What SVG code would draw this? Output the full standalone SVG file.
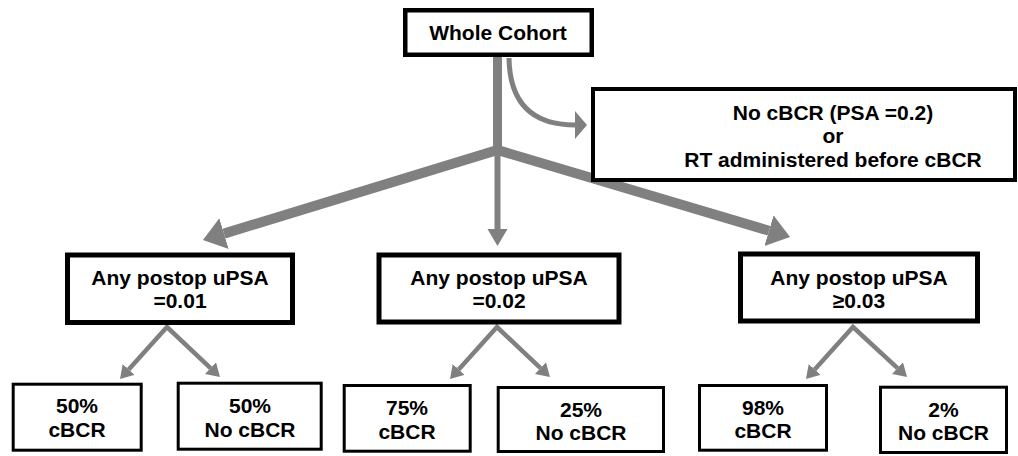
<svg xmlns="http://www.w3.org/2000/svg" width="1018" height="456" viewBox="0 0 1018 456">
<style>
.box{fill:#fff;stroke:#000}
.t{font-family:"Liberation Sans",Arial,sans-serif;font-weight:bold;font-size:21px;fill:#000;text-anchor:middle}
.arr{fill:none;stroke:#808080;stroke-linejoin:miter}
</style>
<defs>
<marker id="hBig" markerUnits="userSpaceOnUse" markerWidth="24" markerHeight="34" refX="0" refY="16" orient="auto-start-reverse" viewBox="0 0 24 34"><path d="M0,0 L22,16 L0,32 z" fill="#808080"/></marker>
<marker id="hMid" markerUnits="userSpaceOnUse" markerWidth="18" markerHeight="22" refX="0" refY="10" orient="auto-start-reverse" viewBox="0 0 18 22"><path d="M0,0 L17,10 L0,20 z" fill="#808080"/></marker>
<marker id="hSm" markerUnits="userSpaceOnUse" markerWidth="14" markerHeight="18" refX="0" refY="8" orient="auto-start-reverse" viewBox="0 0 14 18"><path d="M0,0 L13,8 L0,16 z" fill="#808080"/></marker>
<marker id="hCurve" markerUnits="userSpaceOnUse" markerWidth="14" markerHeight="30" refX="0" refY="14" orient="auto" viewBox="0 0 14 30"><path d="M0,0 L12,14 L0,28 z" fill="#808080"/></marker>
</defs>
<g id="connectors">
<line class="arr" x1="497.5" y1="57" x2="497.5" y2="153" stroke-width="9"/>
<path class="arr" d="M224,233.6 L497.5,150 L769,230.7" stroke-width="10" marker-start="url(#hBig)" marker-end="url(#hBig)"/>
<line class="arr" x1="497.5" y1="150" x2="497.5" y2="229" stroke-width="6" marker-end="url(#hMid)"/>
<path class="arr" d="M509,58 Q510,125 575,125" stroke-width="5" marker-end="url(#hCurve)"/>
<path class="arr" d="M128.7,369.4 L167,327 L210.5,368.1" stroke-width="4.5" marker-start="url(#hSm)" marker-end="url(#hSm)"/>
<path class="arr" d="M458.7,369.4 L497,327 L540.5,368.1" stroke-width="4.5" marker-start="url(#hSm)" marker-end="url(#hSm)"/>
<path class="arr" d="M814.7,369.4 L853,327 L897.5,368.1" stroke-width="4.5" marker-start="url(#hSm)" marker-end="url(#hSm)"/>
</g>
<g id="whole-cohort">
<rect class="box" x="405.25" y="10.25" width="186.5" height="44.5" stroke-width="4.5"/>
<text class="t" x="498" y="40">Whole Cohort</text>
</g>
<g id="excluded">
<rect class="box" x="593" y="89" width="422" height="91" stroke-width="4"/>
<text class="t" x="833" y="120">No cBCR (PSA =0.2)</text>
<text class="t" x="833" y="143">or</text>
<text class="t" x="833" y="167">RT administered before cBCR</text>
</g>
<g id="upsa-001">
<rect class="box" x="67.5" y="255" width="225" height="67.5" stroke-width="5"/>
<text class="t" x="180" y="284.5">Any postop uPSA</text>
<text class="t" x="180" y="308">=0.01</text>
</g>
<g id="upsa-002">
<rect class="box" x="379" y="255" width="240" height="67" stroke-width="5"/>
<text class="t" x="499" y="284.5">Any postop uPSA</text>
<text class="t" x="499" y="308">=0.02</text>
</g>
<g id="upsa-003">
<rect class="box" x="740.5" y="254" width="237" height="67" stroke-width="5"/>
<text class="t" x="859" y="284.5">Any postop uPSA</text>
<text class="t" x="859" y="308">≥0.03</text>
</g>
<g id="leaf-1a">
<rect class="box" x="13.2" y="384.2" width="128" height="66" stroke-width="3"/>
<text class="t" x="77" y="413">50%</text>
<text class="t" x="77" y="437">cBCR</text>
</g>
<g id="leaf-1b">
<rect class="box" x="178.2" y="383.2" width="143" height="66" stroke-width="3"/>
<text class="t" x="250" y="413">50%</text>
<text class="t" x="250" y="437">No cBCR</text>
</g>
<g id="leaf-2a">
<rect class="box" x="344.2" y="385.5" width="126" height="65.7" stroke-width="3"/>
<text class="t" x="407" y="415">75%</text>
<text class="t" x="407" y="439">cBCR</text>
</g>
<g id="leaf-2b">
<rect class="box" x="498.2" y="387.5" width="165.3" height="64" stroke-width="3"/>
<text class="t" x="581" y="416.5">25%</text>
<text class="t" x="581" y="440">No cBCR</text>
</g>
<g id="leaf-3a">
<rect class="box" x="699.5" y="385.5" width="127" height="64.7" stroke-width="3"/>
<text class="t" x="763" y="415">98%</text>
<text class="t" x="763" y="438">cBCR</text>
</g>
<g id="leaf-3b">
<rect class="box" x="880.5" y="387.2" width="126" height="65.3" stroke-width="3"/>
<text class="t" x="943.5" y="416.5">2%</text>
<text class="t" x="943.5" y="440">No cBCR</text>
</g>
</svg>
